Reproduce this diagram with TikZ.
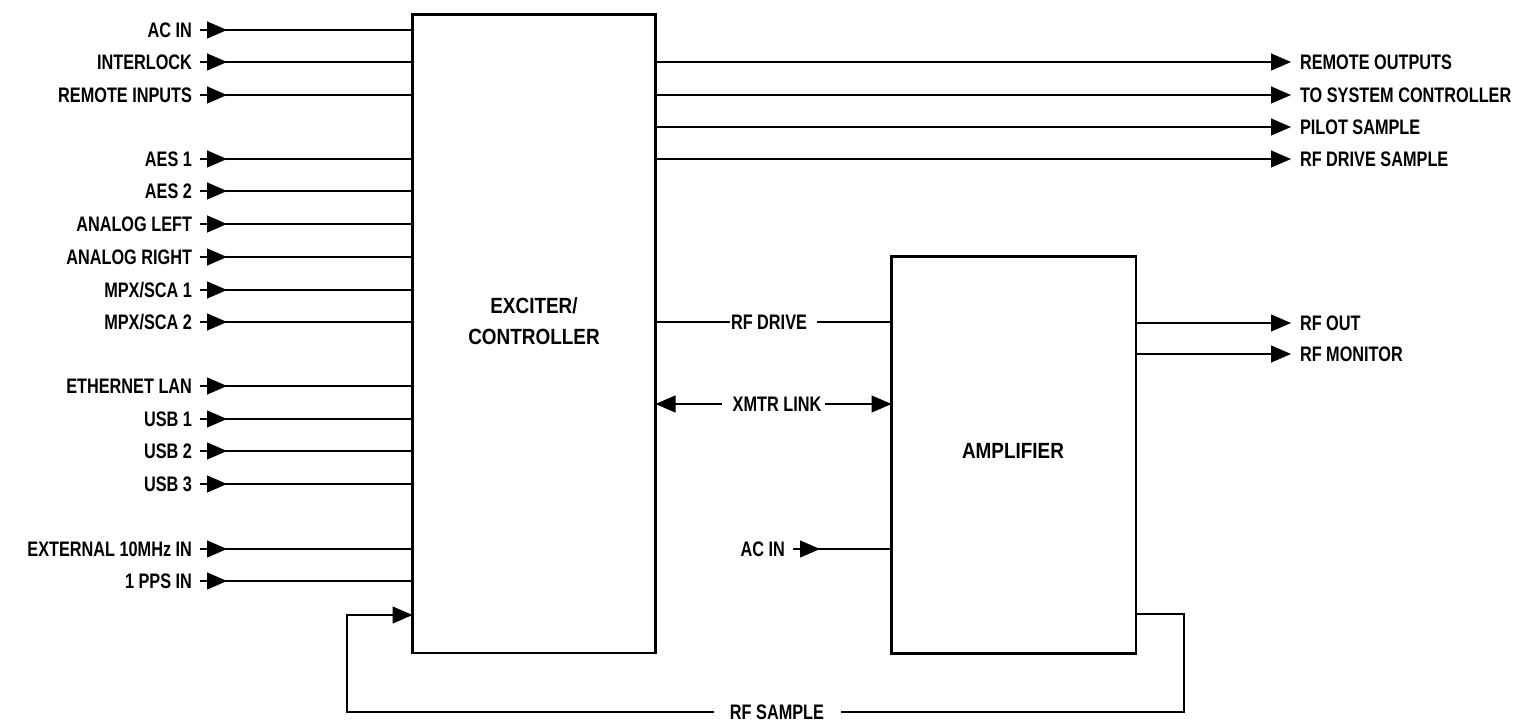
\documentclass[tikz,border=0pt]{standalone}
\usepackage{fontspec}
\setmainfont{Liberation Sans}
\newfontfamily\lblfont{Liberation Sans}[FakeStretch=0.775]
\newfontfamily\boxfont{Liberation Sans}[FakeStretch=0.86]
\usetikzlibrary{arrows.meta,decorations.markings}
\begin{document}
\begin{tikzpicture}[x=1bp,y=-1bp,
  lbl/.style={font=\lblfont\bfseries\fontsize{21bp}{25bp}\selectfont, inner sep=0pt, outer sep=0pt, text height=15bp, text depth=0pt},
  boxtxt/.style={font=\boxfont\bfseries\fontsize{22bp}{31bp}\selectfont, inner sep=0pt, align=center},
  blk/.style={draw, line width=2.5bp, inner sep=0pt, outer sep=0pt, anchor=north west},
  conn/.style={line width=1.3bp},
  tip/.style={-{Triangle[length=20bp,width=17bp]}},
  inmark/.style={postaction={decorate, decoration={markings, mark=at position 27bp with {\arrow{Triangle[length=20bp,width=17bp]}}}}}
]
\useasboundingbox (0,0) rectangle (1522,725);

% blocks
\node[blk, minimum width=243bp, minimum height=638.5bp] (exc) at (412.5,14.5) {};
\node[blk, minimum width=244.5bp, minimum height=397bp] (amp) at (891.5,256.5) {};
\node[boxtxt] (exct) at (534,321) {EXCITER/\\CONTROLLER};
\node[boxtxt] (ampt) at (1013,451) {AMPLIFIER};

% left inputs
\foreach \y/\t/\n in {30/{AC IN}/a, 62/{INTERLOCK}/b, 95/{REMOTE INPUTS}/c,
  159/{AES 1}/d, 191/{AES 2}/e, 224/{ANALOG LEFT}/f, 257/{ANALOG RIGHT}/g,
  290/{MPX/SCA 1}/h, 322/{MPX/SCA 2}/i, 386/{ETHERNET LAN}/j, 419/{USB 1}/k,
  451/{USB 2}/l, 484/{USB 3}/m, 549/{EXTERNAL 10MHz IN}/n, 581/{1 PPS IN}/o}{
  \node[lbl, anchor=east] (in\n) at (192,\y) {\t};
  \draw[conn, inmark] ([xshift=8bp]in\n.east) -- (in\n.east -| exc.west);
}

% right outputs of exciter
\foreach \y/\t/\n in {62/{REMOTE OUTPUTS}/a, 95/{TO SYSTEM CONTROLLER}/b,
  127/{PILOT SAMPLE}/c, 159/{RF DRIVE SAMPLE}/d}{
  \node[lbl, anchor=west] (out\n) at (1300,\y) {\t};
  \draw[conn, tip] (out\n.west -| exc.east) -- ([xshift=-9bp]out\n.west);
}

% amplifier outputs
\foreach \y/\t/\n in {323/{RF OUT}/a, 354/{RF MONITOR}/b}{
  \node[lbl, anchor=west] (aout\n) at (1300,\y) {\t};
  \draw[conn, tip] (aout\n.west -| amp.east) -- ([xshift=-9bp]aout\n.west);
}

% RF drive
\node[lbl] (rfd) at (769,322) {RF DRIVE};
\draw[conn] (rfd.west -| exc.east) -- ([xshift=-1bp]rfd.west);
\draw[conn] ([xshift=10bp]rfd.east) -- (rfd.east -| amp.west);

% XMTR link
\node[lbl] (xl) at (777,404) {XMTR LINK};
\draw[conn, tip] ([xshift=-11bp]xl.west) -- (xl.west -| exc.east);
\draw[conn, tip] ([xshift=4bp]xl.east) -- (xl.east -| amp.west);

% amplifier AC in
\node[lbl, anchor=east] (acin) at (785,549) {AC IN};
\draw[conn, inmark] ([xshift=8bp]acin.east) -- (acin.east -| amp.west);

% RF sample loop
\node[lbl] (rfs) at (777,712) {RF SAMPLE};
\coordinate (s1) at (1184,614);
\coordinate (s2) at (347,615);
\draw[conn] (s1 -| amp.east) -- (s1) |- ([xshift=17bp]rfs.east);
\draw[conn, tip] ([xshift=-16bp]rfs.west) -| (s2) -- (s2 -| exc.west);
\end{tikzpicture}
\end{document}
